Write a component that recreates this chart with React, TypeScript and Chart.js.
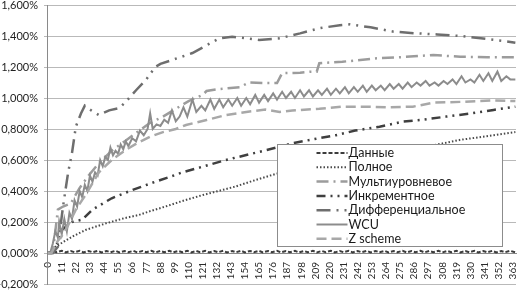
import React, { useEffect, useRef } from "react";
import { Chart, registerables } from "chart.js";

Chart.register(...registerables);

const xTickValues = [0, 11, 22, 33, 44, 55, 66, 77, 88, 99, 110, 121, 132, 143, 154, 165, 176, 187, 198, 209, 220, 231, 242, 253, 264, 275, 286, 297, 308, 319, 330, 341, 352, 363];

const seriesLabels = ["Данные", "Полное", "Мультиуровневое", "Инкрементное", "Дифференциальное", "WCU", "Z scheme"];

const danX = [0, 4, 7, 11, 14, 18, 21, 25, 28, 32, 35, 39, 42, 46, 49, 53, 56, 60, 63, 67, 70, 74, 77, 81, 84, 88, 91, 95, 98, 102, 105, 109, 112, 116, 119, 123, 126, 130, 133, 137, 140, 144, 147, 151, 154, 158, 161, 165, 168, 172, 175, 179, 182, 186, 189, 193, 196, 200, 203, 207, 210, 214, 217, 221, 224, 228, 231, 235, 238, 242, 245, 249, 252, 256, 259, 263, 266, 270, 273, 277, 280, 284, 287, 291, 294, 298, 301, 305, 308, 312, 315, 319, 322, 326, 329, 333, 336, 340, 343, 347, 350, 354, 357, 361, 365];
const danY = [0, 0.012, 0.005, 0.014, 0.004, 0.013, 0.005, 0.014, 0.004, 0.013, 0.005, 0.014, 0.004, 0.013, 0.005, 0.014, 0.004, 0.013, 0.005, 0.014, 0.004, 0.013, 0.005, 0.014, 0.004, 0.013, 0.005, 0.014, 0.004, 0.013, 0.005, 0.014, 0.004, 0.013, 0.005, 0.014, 0.004, 0.013, 0.005, 0.014, 0.004, 0.013, 0.005, 0.014, 0.004, 0.013, 0.005, 0.014, 0.004, 0.013, 0.005, 0.014, 0.004, 0.013, 0.005, 0.014, 0.004, 0.013, 0.005, 0.014, 0.004, 0.013, 0.005, 0.014, 0.004, 0.013, 0.005, 0.014, 0.004, 0.013, 0.005, 0.014, 0.004, 0.013, 0.005, 0.014, 0.004, 0.013, 0.005, 0.014, 0.004, 0.013, 0.005, 0.014, 0.004, 0.013, 0.005, 0.014, 0.004, 0.013, 0.005, 0.014, 0.004, 0.013, 0.005, 0.014, 0.004, 0.013, 0.005, 0.014, 0.004, 0.013, 0.005, 0.014, 0.004, 0.013, 0.006];

const polX = [0, 3, 6, 12, 19, 30, 45, 60, 71, 80, 92, 105, 121, 138, 147, 160, 175, 200, 230, 260, 285, 301, 322, 348, 365];
const polY = [0, 0, 0.04, 0.07, 0.105, 0.15, 0.19, 0.225, 0.245, 0.27, 0.3, 0.335, 0.374, 0.41, 0.43, 0.465, 0.503, 0.56, 0.615, 0.655, 0.68, 0.695, 0.73, 0.76, 0.78];

const multiX = [0, 4, 8, 12, 18, 25, 32, 40, 50, 60, 70, 80, 90, 100, 110, 121, 124, 134, 150, 157, 168, 179, 183, 197, 205, 210, 212, 230, 244, 257, 275, 301, 322, 343, 365];
const multiY = [0, 0, 0.28, 0.3, 0.32, 0.42, 0.5, 0.58, 0.66, 0.72, 0.78, 0.84, 0.88, 0.93, 0.98, 1.02, 1.045, 1.058, 1.07, 1.1, 1.097, 1.097, 1.16, 1.163, 1.17, 1.17, 1.224, 1.234, 1.245, 1.256, 1.263, 1.277, 1.266, 1.263, 1.263];

const incX = [0, 3, 9, 11, 19, 27, 35, 50, 66, 84, 95, 105, 121, 139, 155, 171, 191, 207, 225, 240, 259, 277, 293, 311, 330, 348, 365];
const incY = [0, 0, 0.084, 0.148, 0.2, 0.215, 0.28, 0.353, 0.406, 0.46, 0.49, 0.52, 0.557, 0.6, 0.632, 0.664, 0.708, 0.733, 0.76, 0.79, 0.815, 0.847, 0.86, 0.88, 0.9, 0.923, 0.944];

const difX = [0, 4, 8, 12, 16, 19, 22, 26, 29, 34, 40, 48, 56, 61, 69, 77, 84, 88, 97, 113, 124, 134, 144, 155, 165, 181, 197, 212, 228, 236, 252, 270, 288, 304, 322, 338, 354, 365];
const difY = [0, 0, 0.04, 0.3, 0.52, 0.645, 0.815, 0.9, 0.95, 0.92, 0.89, 0.92, 0.935, 0.976, 1.05, 1.12, 1.2, 1.22, 1.245, 1.29, 1.34, 1.385, 1.395, 1.385, 1.375, 1.385, 1.417, 1.45, 1.47, 1.475, 1.456, 1.428, 1.417, 1.41, 1.4, 1.385, 1.37, 1.357];

const wcuX = [0, 2, 4, 6, 8, 9, 11, 13, 15, 17, 19, 21, 23, 25, 27, 29, 31, 33, 35, 37, 39, 41, 43, 45, 47, 49, 51, 53, 55, 57, 59, 61, 63, 66, 69, 72, 75, 78, 80, 82, 85, 88, 91, 94, 97, 100, 103, 106, 109, 113, 116, 120, 123, 127, 130, 134, 137, 141, 144, 148, 151, 155, 158, 162, 165, 169, 172, 176, 179, 183, 186, 190, 193, 197, 200, 204, 207, 211, 214, 218, 221, 225, 228, 232, 235, 239, 242, 246, 249, 253, 256, 260, 263, 267, 270, 274, 277, 281, 284, 288, 291, 295, 298, 302, 305, 309, 312, 316, 319, 323, 326, 330, 333, 337, 340, 344, 347, 351, 354, 358, 361, 365];
const wcuY = [0, 0, 0.06, 0.14, 0.1, 0.2, 0.12, 0.22, 0.14, 0.26, 0.22, 0.34, 0.3, 0.4, 0.36, 0.44, 0.4, 0.5, 0.46, 0.52, 0.5, 0.6, 0.56, 0.62, 0.6, 0.68, 0.63, 0.66, 0.64, 0.7, 0.67, 0.72, 0.69, 0.74, 0.72, 0.79, 0.76, 0.8, 0.9, 0.8, 0.83, 0.82, 0.86, 0.84, 0.92, 0.85, 0.88, 0.94, 0.88, 0.99, 0.91, 0.95, 0.92, 0.99, 0.93, 0.99, 0.94, 0.99, 0.95, 1.0, 0.95, 1.0, 0.96, 1.02, 0.97, 1.02, 0.98, 1.03, 0.99, 1.04, 1.0, 1.04, 1.0, 1.05, 1.01, 1.05, 1.01, 1.05, 1.02, 1.06, 1.02, 1.06, 1.03, 1.07, 1.03, 1.07, 1.04, 1.08, 1.04, 1.08, 1.05, 1.08, 1.05, 1.09, 1.06, 1.09, 1.06, 1.1, 1.07, 1.1, 1.08, 1.11, 1.08, 1.1, 1.08, 1.11, 1.09, 1.12, 1.09, 1.14, 1.1, 1.12, 1.1, 1.15, 1.11, 1.16, 1.11, 1.17, 1.11, 1.14, 1.12, 1.12];

const zX = [0, 3, 8, 12, 16, 22, 30, 40, 50, 60, 70, 80, 90, 100, 108, 124, 139, 155, 170, 181, 191, 212, 230, 249, 265, 285, 301, 322, 348, 365];
const zY = [0, 0, 0.08, 0.12, 0.18, 0.28, 0.38, 0.52, 0.6, 0.66, 0.71, 0.75, 0.78, 0.8, 0.826, 0.858, 0.89, 0.91, 0.925, 0.91, 0.92, 0.93, 0.944, 0.944, 0.94, 0.944, 0.97, 0.975, 0.985, 0.98];

const toPoints = (xs: number[], ys: number[]) => xs.map((x, i) => ({ x, y: ys[i] }));

const FONT = "Lato, 'Liberation Sans', sans-serif";

const boxLegend = {
  id: "boxLegend",
  afterDatasetsDraw(chart: any) {
    const ctx = chart.ctx;
    const x0 = 277.5, y0 = 144.5, w = 225, h = 102;
    ctx.save();
    ctx.fillStyle = "#ffffff";
    ctx.fillRect(x0, y0, w, h);
    ctx.strokeStyle = "#8c8c8c";
    ctx.lineWidth = 1;
    ctx.strokeRect(x0, y0, w, h);
    chart.data.datasets.forEach((ds: any, i: number) => {
      const yy = y0 + 8.5 + i * 14.3;
      ctx.save();
      ctx.strokeStyle = ds.borderColor;
      ctx.lineWidth = ds.borderWidth;
      ctx.setLineDash(ds.borderDash || []);
      ctx.beginPath();
      ctx.moveTo(x0 + 39, yy);
      ctx.lineTo(x0 + 70, yy);
      ctx.stroke();
      ctx.restore();
      ctx.fillStyle = "#1a1a1a";
      ctx.font = "12.5px " + FONT;
      ctx.textBaseline = "middle";
      ctx.textAlign = "left";
      ctx.fillText(ds.label, x0 + 71, yy);
    });
    ctx.restore();
  },
};

export default function App() {
  const ref = useRef<HTMLCanvasElement | null>(null);
  useEffect(() => {
    document.body.style.margin = "0";
    if (!ref.current) return;
    const mk = (i: number, xs: number[], ys: number[], color: string, width: number, dash: number[]) => ({
      label: seriesLabels[i],
      data: toPoints(xs, ys),
      borderColor: color,
      backgroundColor: color,
      borderWidth: width,
      borderDash: dash,
      pointRadius: 0,
      tension: 0,
      fill: false,
      order: 10 - i,
    });
    const chart = new Chart(ref.current, {
      type: "line",
      data: {
        datasets: [
          mk(0, danX, danY, "#3c3c3c", 2, [4, 2]),
          mk(1, polX, polY, "#4a4a4a", 2, [1.5, 2]),
          mk(2, multiX, multiY, "#9c9c9c", 2.5, [12, 5, 2, 5]),
          mk(3, incX, incY, "#3f3f3f", 2.5, [9, 5, 2, 5, 2, 5]),
          mk(4, difX, difY, "#6e6e6e", 2.5, [14, 6, 2, 6, 2, 6]),
          mk(5, wcuX, wcuY, "#8c8c8c", 2, []),
          mk(6, zX, zY, "#a8a8a8", 2.5, [10, 5]),
        ] as any,
      },
      options: {
        responsive: false,
        animation: false,
        layout: { padding: { top: 5, bottom: 6, left: 0, right: 4 } },
        plugins: { legend: { display: false }, tooltip: { enabled: false } },
        scales: {
          x: {
            type: "linear",
            min: -0.5,
            max: 365.5,
            position: { y: 0 } as any,
            grid: { display: false, drawTicks: false },
            border: { display: true, color: "#8a8a8a", width: 1 },
            afterBuildTicks: (s: any) => {
              s.ticks = xTickValues.map((v) => ({ value: v }));
            },
            afterFit: (s: any) => {
              s.paddingLeft = 0;
              s.paddingRight = 0;
            },
            ticks: {
              autoSkip: false,
              minRotation: 90,
              maxRotation: 90,
              padding: 9,
              color: "#2a2a2a",
              font: { family: FONT, size: 10 },
              callback: (v: any) => String(v),
            },
          },
          y: {
            min: -0.2,
            max: 1.6,
            afterFit: (s: any) => {
              s.width = 47;
              s.paddingTop = 0;
              s.paddingBottom = 0;
            },
            grid: { color: "#b9b9b9", lineWidth: 1, tickLength: 3, drawTicks: true },
            border: { display: true, color: "#8a8a8a", width: 1 },
            ticks: {
              stepSize: 0.2,
              padding: 6,
              color: "#1e1e1e",
              font: { family: FONT, size: 11 },
              callback: (v: any) => (Math.round(Number(v) * 1000) / 1000).toFixed(3).replace(".", ",") + "%",
            },
          },
        },
      },
      plugins: [boxLegend],
    });
    return () => chart.destroy();
  }, []);
  return (
    <div style={{ width: 520, height: 290, background: "#fff" }}>
      <canvas ref={ref} width={520} height={290} style={{ display: "block" }} />
    </div>
  );
}
